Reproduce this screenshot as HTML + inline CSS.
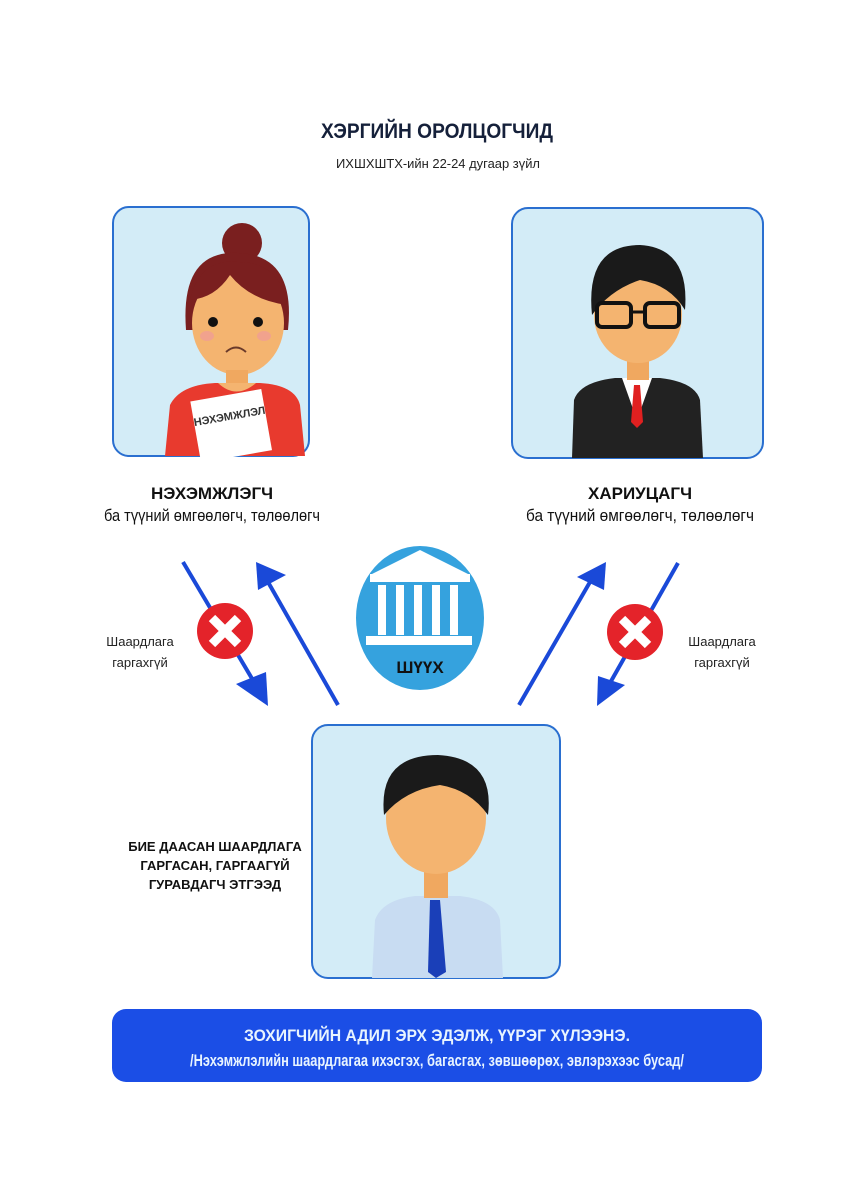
<!DOCTYPE html>
<html><head><meta charset="utf-8"><style>
html,body{margin:0;padding:0;background:#fff;}
svg{display:block;}
text{font-family:"Liberation Sans Narrow","Liberation Sans",sans-serif;}
</style></head><body>
<svg width="850" height="1195" viewBox="0 0 850 1195" xmlns="http://www.w3.org/2000/svg">
<rect width="850" height="1195" fill="#fff"/>
<text x="437" y="138" text-anchor="middle" font-size="21" font-weight="bold" fill="#15203a" textLength="232" lengthAdjust="spacingAndGlyphs">ХЭРГИЙН ОРОЛЦОГЧИД</text>
<text x="438" y="168" text-anchor="middle" font-size="13" fill="#222" textLength="204" lengthAdjust="spacingAndGlyphs">ИХШХШТХ-ийн 22-24 дугаар зүйл</text>

<!-- left box -->
<rect x="113" y="207" width="196" height="249" rx="16" fill="#d3ecf7" stroke="#2a6fd0" stroke-width="2"/>
<circle cx="242" cy="243" r="20" fill="#7a1f1f"/>
<path d="M186 330 Q180 250 238 253 Q296 255 288 330 Z" fill="#7a1f1f"/>
<ellipse cx="238" cy="323" rx="46" ry="52" fill="#f4b470"/>
<path d="M190 300 Q200 258 238 262 Q280 262 287 305 Q250 300 230 275 Q215 298 190 300Z" fill="#7a1f1f"/>
<circle cx="213" cy="322" r="5" fill="#111"/><circle cx="258" cy="322" r="5" fill="#111"/>
<ellipse cx="207" cy="336" rx="7" ry="5" fill="#f09a9a" opacity="0.7"/><ellipse cx="264" cy="336" rx="7" ry="5" fill="#f09a9a" opacity="0.7"/>
<path d="M226 352 Q236 343 246 352" stroke="#6a3a2a" stroke-width="2" fill="none"/>
<rect x="226" y="370" width="22" height="20" fill="#f0a860"/>
<path d="M165 456 L170 405 Q180 385 215 383 L260 383 Q295 385 300 405 L305 456 Z" fill="#e83a2e"/>
<path d="M218 383 Q236 400 256 383 Z" fill="#f4b470"/>
<g transform="rotate(-10 230 425)"><rect x="195" y="395" width="72" height="62" fill="#fff"/><text x="231" y="420" text-anchor="middle" font-size="11" font-weight="bold" fill="#333">НЭХЭМЖЛЭЛ</text></g>

<!-- right box -->
<rect x="512" y="208" width="251" height="250" rx="16" fill="#d3ecf7" stroke="#2a6fd0" stroke-width="2"/>
<path d="M572 458 L574 400 Q580 382 615 378 L660 378 Q695 382 700 400 L703 458 Z" fill="#222"/>
<path d="M622 378 L637 420 L652 378Z" fill="#fff"/>
<path d="M634 385 L640 385 L643 422 L637 428 L631 422Z" fill="#e02020"/>
<rect x="627" y="350" width="22" height="30" fill="#f0a860"/>
<ellipse cx="638" cy="315" rx="44" ry="48" fill="#f4b470"/>
<path d="M592 315 Q585 245 640 245 Q690 248 685 310 Q670 285 640 280 Q610 290 592 315Z" fill="#1a1a1a"/>
<rect x="597" y="303" width="34" height="24" rx="5" fill="none" stroke="#111" stroke-width="4"/>
<rect x="645" y="303" width="34" height="24" rx="5" fill="none" stroke="#111" stroke-width="4"/>
<path d="M631 312 L645 312" stroke="#111" stroke-width="3"/>

<text x="212" y="499" text-anchor="middle" font-size="17" font-weight="bold" fill="#111">НЭХЭМЖЛЭГЧ</text>
<text x="212" y="521" text-anchor="middle" font-size="17" fill="#111" textLength="216" lengthAdjust="spacingAndGlyphs">ба түүний өмгөөлөгч, төлөөлөгч</text>
<text x="640" y="499" text-anchor="middle" font-size="17" font-weight="bold" fill="#111">ХАРИУЦАГЧ</text>
<text x="640" y="521" text-anchor="middle" font-size="17" fill="#111" textLength="228" lengthAdjust="spacingAndGlyphs">ба түүний өмгөөлөгч, төлөөлөгч</text>

<!-- court -->
<ellipse cx="420" cy="618" rx="64" ry="72" fill="#35a2de"/>
<path d="M372 574 L420 550 L468 574 Z" fill="#fff"/>
<rect x="370" y="574" width="100" height="8" fill="#fff"/>
<g fill="#fff"><rect x="378" y="585" width="8" height="50"/><rect x="396" y="585" width="8" height="50"/><rect x="414" y="585" width="8" height="50"/><rect x="432" y="585" width="8" height="50"/><rect x="450" y="585" width="8" height="50"/></g>
<rect x="366" y="636" width="106" height="9" fill="#fff"/>
<text x="420" y="673" text-anchor="middle" font-size="17" font-weight="bold" fill="#111">ШҮҮХ</text>

<!-- arrows -->
<g stroke="#1a49d8" stroke-width="4" fill="#1a49d8">
<line x1="183" y1="562" x2="254" y2="682"/>
<line x1="338" y1="705" x2="268" y2="582"/>
<line x1="519" y1="705" x2="590" y2="582"/>
<line x1="678" y1="563" x2="610" y2="683"/>
</g>
<g fill="#1a49d8">
<path d="M268 706 L236 684 L266 672 Z"/>
<path d="M256 562 L286 575 L258 590 Z"/>
<path d="M606 562 L604 590 L577 577 Z"/>
<path d="M597 706 L598 676 L625 685 Z"/>
</g>
<circle cx="225" cy="631" r="28" fill="#e4232a"/>
<path d="M212 618 L238 644 M238 618 L212 644" stroke="#fff" stroke-width="9"/>
<circle cx="635" cy="632" r="28" fill="#e4232a"/>
<path d="M622 619 L648 645 M648 619 L622 645" stroke="#fff" stroke-width="9"/>
<text x="140" y="646" text-anchor="middle" font-size="13" fill="#222">Шаардлага</text>
<text x="140" y="667" text-anchor="middle" font-size="13" fill="#222">гаргахгүй</text>
<text x="722" y="646" text-anchor="middle" font-size="13" fill="#222">Шаардлага</text>
<text x="722" y="667" text-anchor="middle" font-size="13" fill="#222">гаргахгүй</text>

<!-- bottom box -->
<rect x="312" y="725" width="248" height="253" rx="16" fill="#d3ecf7" stroke="#2a6fd0" stroke-width="2"/>
<path d="M372 978 L375 920 Q382 900 415 896 L460 896 Q495 900 500 920 L503 978 Z" fill="#c8dcf2"/>
<path d="M430 900 L440 900 L446 972 L436 978 L428 972Z" fill="#1a3fb8"/>
<rect x="424" y="868" width="24" height="30" fill="#f0a860"/>
<ellipse cx="436" cy="818" rx="50" ry="56" fill="#f4b470"/>
<path d="M384 815 Q378 755 438 755 Q495 758 488 815 Q470 790 440 785 Q405 790 384 815Z" fill="#1a1a1a"/>
<text x="215" y="851" text-anchor="middle" font-size="13" font-weight="bold" fill="#111">БИЕ ДААСАН ШААРДЛАГА</text>
<text x="215" y="870" text-anchor="middle" font-size="13" font-weight="bold" fill="#111">ГАРГАСАН, ГАРГААГҮЙ</text>
<text x="215" y="889" text-anchor="middle" font-size="13" font-weight="bold" fill="#111">ГУРАВДАГЧ ЭТГЭЭД</text>

<!-- banner -->
<rect x="112" y="1009" width="650" height="73" rx="14" fill="#1b4ee6"/>
<text x="437" y="1041" text-anchor="middle" font-size="17" font-weight="bold" fill="#e8f4ff" textLength="386" lengthAdjust="spacingAndGlyphs">ЗОХИГЧИЙН АДИЛ ЭРХ ЭДЭЛЖ, ҮҮРЭГ ХҮЛЭЭНЭ.</text>
<text x="437" y="1066" text-anchor="middle" font-size="17" font-weight="bold" fill="#e8f4ff" textLength="494" lengthAdjust="spacingAndGlyphs">/Нэхэмжлэлийн шаардлагаа ихэсгэх, багасгах, зөвшөөрөх, эвлэрэхээс бусад/</text>
</svg>
</body></html>
